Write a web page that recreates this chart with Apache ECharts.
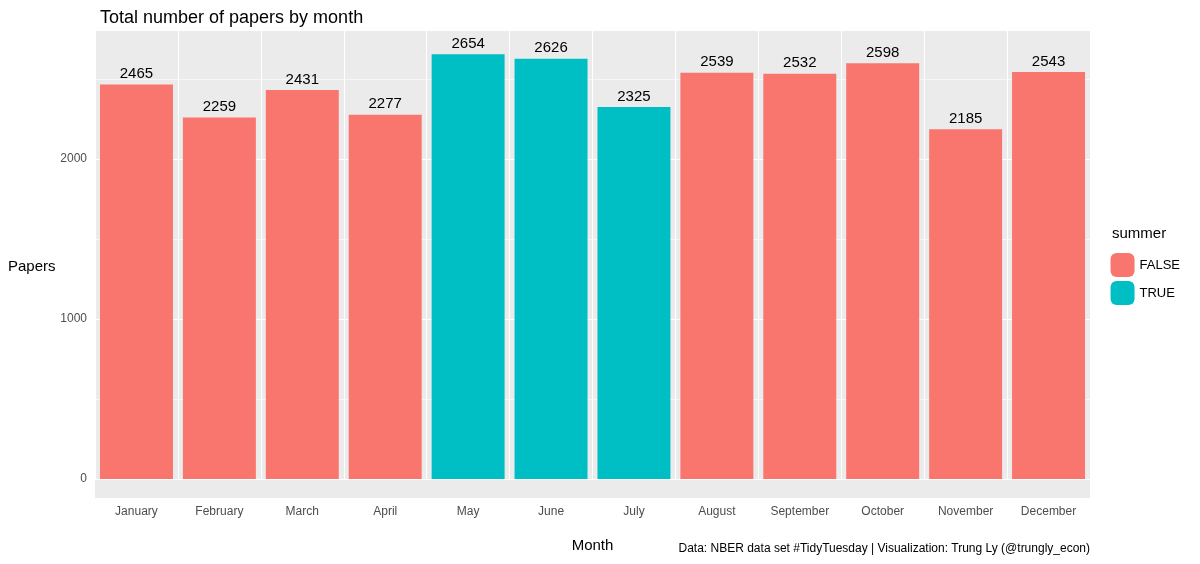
<!DOCTYPE html>
<html>
<head>
<meta charset="utf-8">
<script src="https://cdn.jsdelivr.net/npm/echarts@6/dist/echarts.min.js"></script>
</head>
<body style="margin:0">
<div id="main" style="width:1200px;height:564px;"></div>
<script>
var months = ['January','February','March','April','May','June','July','August','September','October','November','December'];
var papers = [2465,2259,2431,2277,2654,2626,2325,2539,2532,2598,2185,2543];
var summer = [false,false,false,false,true,true,true,false,false,false,false,false];
var yTicks = [0,1000,2000];

var chart = echarts.init(document.getElementById('main'));
var lbl = {show:true, position:'top', color:'#000', fontSize:15, fontFamily:'Liberation Sans', distance:3};
chart.setOption({
  textStyle:{fontFamily:'Liberation Sans'},
  title:{text:'Total number of papers by month', left:95, top:4, textStyle:{fontSize:18, fontWeight:'normal', color:'#000'}},
  legend:{right:15, top:248, orient:'vertical', itemWidth:24, itemHeight:24, itemGap:4,
    textStyle:{fontSize:13, color:'#000'}, data:['FALSE','TRUE']},
  graphic:[
    {type:'rect', z:-10, shape:{x:95,y:30,width:995,height:468}, style:{fill:'#ebebeb'}},
    {type:'text', left:1112, top:226, style:{text:'summer', fontSize:15, fill:'#000', font:'15px Liberation Sans'}},
    {type:'text', right:110, top:543, style:{text:'Data: NBER data set #TidyTuesday | Visualization: Trung Ly (@trungly_econ)', fill:'#000', font:'12px Liberation Sans'}},
    {type:'text', left:8, top:259, style:{text:'Papers', fill:'#000', font:'15px Liberation Sans'}}
  ],
  grid:{left:95, right:110, top:30, bottom:85},
  xAxis:{type:'category', data:months, offset:19,
    name:'Month', nameLocation:'middle', nameGap:40, nameTextStyle:{fontSize:15, color:'#000'},
    axisLine:{show:false}, axisTick:{alignWithLabel:true, length:4, lineStyle:{color:'#333'}},
    axisLabel:{color:'#4d4d4d', fontSize:12, margin:8},
    splitLine:{show:true, lineStyle:{color:'#fff', width:1}}},
  yAxis:{type:'value', min:0, max:2806, interval:500,
    axisLine:{show:false}, axisTick:{show:false},
    axisLabel:{color:'#4d4d4d', fontSize:12, margin:8, formatter:function(v){return yTicks.indexOf(v)>=0?String(v):'';}},
    splitLine:{lineStyle:{color:['#fff','#f7f7f7'], width:1}}},
  series:[
    {name:'FALSE', type:'bar', stack:'a', barWidth:'88%', itemStyle:{color:'#f8766d'}, label:lbl,
      data:papers.map(function(v,i){return summer[i]?null:v;})},
    {name:'TRUE', type:'bar', stack:'a', barWidth:'88%', itemStyle:{color:'#00bfc4'}, label:lbl,
      data:papers.map(function(v,i){return summer[i]?v:null;})}
  ]
});
</script>
</body>
</html>
